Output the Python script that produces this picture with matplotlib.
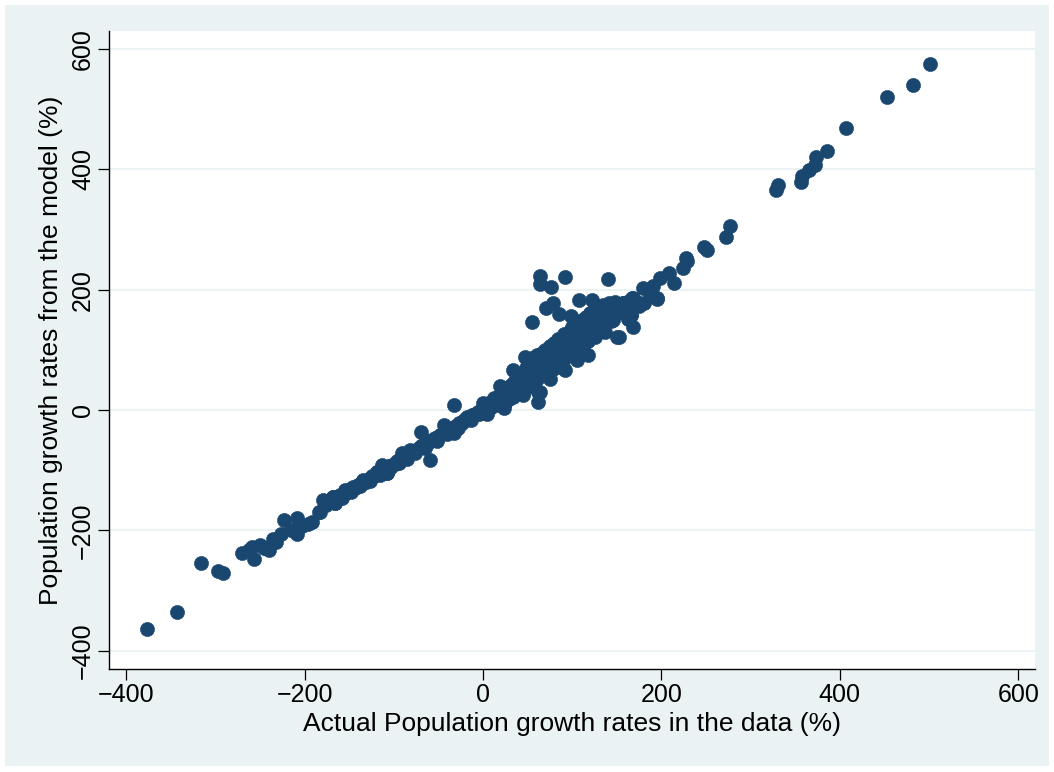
import matplotlib
matplotlib.use("Agg")
import matplotlib.pyplot as plt
from matplotlib.patches import Rectangle

plt.rcParams['font.family'] = ['Liberation Sans', 'DejaVu Sans']

# ---- data ----
# lower tail
x_tail = [-377, -343, -316, -297, -291, -270, -262, -259, -257, -250, -245, -240,
          -235, -232, -226, -223, -215, -209, -209, -203, -196, -192, -184, -183, -179]
y_tail = [-363, -335, -254, -268, -270, -238, -233, -227, -248, -224, -230, -233,
          -214, -220, -206, -182, -200, -179, -206, -192, -190, -186, -170, -169, -150]

# negative dense line
x_neg = [-176, -172, -168, -166, -163, -160, -157, -155, -152, -149, -146, -143, -140,
         -137, -134, -131, -128, -125, -122, -119, -116, -113, -110, -108, -105, -102,
         -99, -96, -93, -90, -87, -84, -81, -78, -75, -72, -69, -66, -63, -60, -57,
         -54, -51, -48, -45, -42, -39, -36, -33, -30, -27, -24, -21, -18, -15, -12,
         -9, -6, -3,
         -168, -166, -113, -108, -119, -91, -82, -69, -59, -56, -44, -33, -33, -18,
         -171, -158, -148, -138, -127, -115, -104, -94, -85, -76, -65, -52, -40, -28,
         -14, -4, 4, 15]
y_neg = [-158, -153, -144, -155, -146, -141, -140, -133, -137, -132, -128, -129, -124,
         -121, -116, -119, -114, -110, -109, -103, -104, -95, -99, -105, -93, -92,
         -89, -85, -81, -79, -77, -74, -71, -69, -66, -63, -60, -57, -56, -52, -50,
         -46, -45, -41, -38, -37, -33, -31, -28, -26, -22, -21, -17, -15, -12, -9,
         -7, -4, -1,
         -144, -155, -91, -105, -103, -72, -66, -36, -83, -50, -25, -39, 8, -11,
         -150, -146, -137, -127, -118, -108, -97, -88, -81, -72, -63, -51, -40, -30,
         -16, -7, -6, 11]

# central cloud 0..175
x_mid = [0, 2, 4, 5, 7, 8, 10, 11, 12, 14, 16, 18, 19, 20, 21, 23, 24, 25, 26, 28,
         29, 30, 31, 33, 34, 35, 36, 38, 39, 40, 41, 42, 43, 45, 45, 46, 47, 48, 49,
         50, 51, 52, 53, 54, 55, 56, 57, 58, 59, 60, 61, 63, 64, 65, 66, 67, 68, 69,
         70, 71, 72, 74, 75, 76, 77, 78, 79, 80, 81, 82, 83, 84, 85, 86, 87, 88, 89,
         90, 91, 92, 93, 94, 95, 96, 97, 98, 99, 100, 101, 102, 103, 104, 105, 106,
         107, 108, 109, 110, 111, 112, 113, 114, 115, 116, 117, 118, 119, 120, 121,
         122, 123, 124, 125, 126, 127, 128, 129, 130, 132, 134, 135, 136, 138, 140,
         141, 143, 145, 146, 148, 150, 152, 155, 157, 160, 163, 166, 168, 170, 173]
y_mid = [-5, 3, 8, -2, 12, 4, 15, 6, 20, 10, 18, 24, 8, 14, 28, 20, 32, 12, 24, 36,
         18, 28, 42, 30, 22, 46, 36, 28, 50, 40, 58, 32, 48, 28, 62, 44, 54, 70, 38,
         58, 48, 75, 64, 42, 86, 55, 70, 80, 60, 52, 92, 72, 84, 62, 95, 78, 58, 88,
         100, 68, 82, 92, 106, 75, 86, 98, 68, 112, 90, 78, 100, 118, 88, 105, 72, 95,
         115, 82, 126, 100, 110, 90, 122, 105, 132, 95, 115, 138, 108, 120, 98, 130,
         112, 144, 125, 105, 135, 118, 150, 128, 110, 140, 122, 155, 133, 115, 145,
         160, 128, 150, 138, 165, 122, 148, 158, 135, 170, 145, 160, 150, 175, 140,
         165, 155, 178, 148, 170, 160, 180, 168, 175, 162, 177, 172, 169, 158, 185,
         176, 180]

# outliers around the cloud
x_out = [64, 64, 76, 92, 140, 55, 71, 78, 85, 108, 122, 99, 120, 144, 157, 168, 180,
         195, 118, 105, 92, 75, 64, 62, 45, 23, 0, 150, 168, 163, 62, 47, 34, 19]
y_out = [223, 210, 205, 221, 217, 147, 169, 178, 160, 183, 182, 157, 161, 163, 177,
         186, 177, 186, 91, 83, 66, 52, 30, 14, 25, 3, 11, 122, 138, 152, 30, 88, 66, 40]

# upper branch
x_up = [135, 137, 142, 146, 152, 154, 161, 167, 175, 166, 179, 187, 191, 195, 198,
        209, 214, 224, 228, 229, 248, 251, 272, 277, 328, 331, 356, 358, 365, 372,
        373, 386, 407, 453, 482, 501]
y_up = [141, 130, 163, 150, 122, 172, 180, 186, 172, 158, 202, 194, 206, 184, 219,
        228, 211, 236, 252, 247, 271, 266, 287, 305, 365, 374, 379, 388, 398, 407,
        420, 431, 468, 520, 540, 574]

xs = x_tail + x_neg + x_mid + x_out + x_up
ys = y_tail + y_neg + y_mid + y_out + y_up

x_ticks = [-400, -200, 0, 200, 400, 600]
y_ticks = [-400, -200, 0, 200, 400, 600]
x_title = "Actual Population growth rates in the data (%)"
y_title = "Population growth rates from the model (%)"

# ---- style ----
W, H = 1054, 772
fig = plt.figure(figsize=(W / 100, H / 100), dpi=100, facecolor='white')
bg = '#EAF2F3'
fig.patches.append(Rectangle((5 / W, 6 / H), (1049 - 5) / W, (767 - 6) / H,
                             transform=fig.transFigure, facecolor=bg,
                             edgecolor='none', zorder=-10))
ax = fig.add_axes([109 / W, 1 - 669 / H, (1035 - 109) / W, (669 - 31) / H])
ax.set_facecolor('white')

navy = '#1A476F'
ax.scatter(xs, ys, s=104, color=navy, linewidths=0.4, edgecolors=navy, zorder=3)

ax.set_xlim(-419.3, 618.8)
ax.set_ylim(-430.2, 629.6)
ax.set_xticks(x_ticks)
ax.set_yticks(y_ticks)
ax.grid(axis='y', color=bg, linewidth=1.3, zorder=0)
ax.grid(axis='x', visible=False)
ax.set_axisbelow(True)

for s in ['top', 'right']:
    ax.spines[s].set_visible(False)
for s in ['left', 'bottom']:
    ax.spines[s].set_linewidth(1.0)
    ax.spines[s].set_color('black')

ax.tick_params(axis='both', direction='out', length=8, width=0.9, colors='black',
               labelsize=18, pad=2)
for lab in ax.get_yticklabels():
    lab.set_rotation(90)
    lab.set_va('center')

ax.set_xlabel(x_title, fontsize=19, labelpad=4)
ax.set_ylabel(y_title, fontsize=19, labelpad=6)

fig.savefig('out.png', dpi=100, facecolor='white')
